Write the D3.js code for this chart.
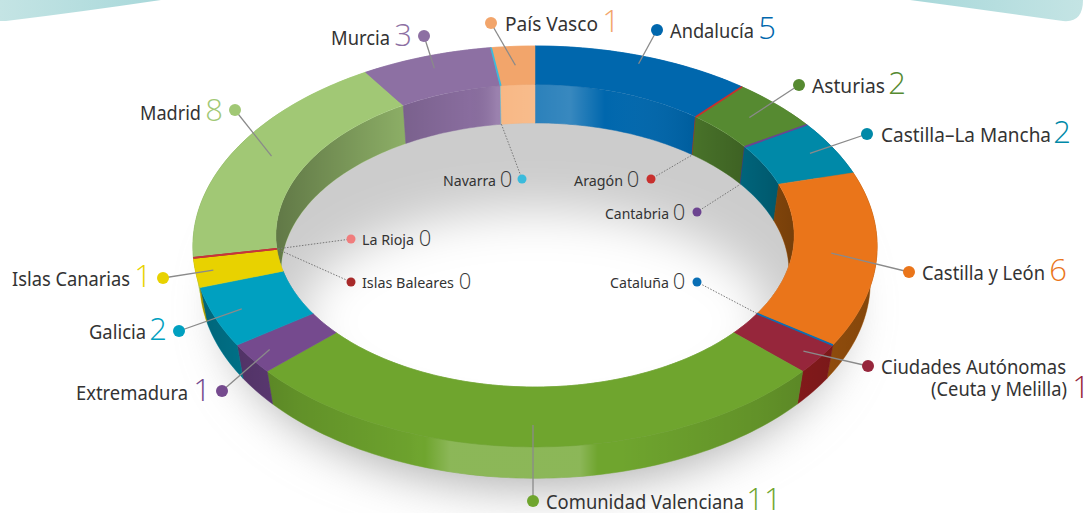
<!DOCTYPE html>
<html>
<head>
<meta charset="utf-8">
<script src="https://cdn.jsdelivr.net/npm/d3@7"></script>
<style>
  body { margin: 0; background: #fff; }
  svg { display: block; }
  text { font-family: "Noto Sans", sans-serif; fill: #333; }
  .num { font-family: "Open Sans", sans-serif; font-weight: 300; }
</style>
</head>
<body>
<script>
//chart data, clockwise from the top of the ring
var regions = ["Andalucía","Aragón","Asturias","Cantabria","Castilla–La Mancha","Castilla y León","Cataluña","Ciudades Autónomas","Comunidad Valenciana","Extremadura","Galicia","Islas Canarias","Islas Baleares","La Rioja","Madrid","Murcia","Navarra","País Vasco"];
var counts = [5,0,2,0,2,6,0,1,11,1,2,1,0,0,8,3,0,1];
var colors = ["#0067ad","#c8302e","#568a31","#6c4490","#0089a8","#ea751a","#0a6fb5","#96263b","#6fa52e","#754a8e","#00a0c0","#e8d200","#a82a2a","#c8343c","#a1c875","#8d70a3","#3bbbdc","#f2a56b"];
var wallColors = ["#0067ad","#c8302e","#4f7d2d","#6c4490","#007f9c","#b5600f","#0a6fb5","#9c1f20","#6fa52e","#6a4285","#0090ad","#e8d200","#a82a2a","#c8343c","#a1c875","#8d70a3","#3bbbdc","#f7ae74"];
var dotColors = colors.slice();
dotColors[13] = "#f07d7d"; //La Rioja dot is paler than its line

//label layout: dot x/y, name start x, name end x, baseline, value centre x, leader end radius
var layout = {
  "Andalucía":            [657,30,670,754,38,767,.95,"top"],
  "Aragón":               [651,179,574,623,186,633,.76,"low"],
  "Asturias":             [799,85,812,885,93,897,.88,"top"],
  "Cantabria":            [697,212,605,669,219,679,.76,"low"],
  "Castilla–La Mancha":   [867,134,881,1051,142,1062,.92,"top"],
  "Castilla y León":      [909,272,922,1045,280,1058,.87,"top"],
  "Cataluña":             [697,282,610,669,288,679,.76,"top"],
  "Ciudades Autónomas":   [868,366,881,1066,374,1081,.95,"top"],
  "Comunidad Valenciana": [533,501,546,744,509,764,.88,"low"],
  "Extremadura":          [222,391,76,188,400,202,.94,"top"],
  "Galicia":              [179,331,89,146,339,158,.92,"top"],
  "Islas Canarias":       [163,278,12,130,286,143,.95,"top"],
  "Islas Baleares":       [351,282,362,454,288,465,.76,"top"],
  "La Rioja":             [351,239,362,414,245,425,.76,"top"],
  "Madrid":               [235,110,140,201,120,214,.88,"top"],
  "Murcia":               [424,36,331,390,45,403,.92,"top"],
  "Navarra":              [522,179,443,496,186,506,.76,"low"],
  "País Vasco":           [491,23,505,598,31,611,.88,"top"]
};

var w = 1091, h = 513;

//perspective of the ring plane, fitted to the picture
var cx = 535, cy = 221.2, ax = 339.4, ay = 197.3, persp = 0.126;
var rIn = 0.76, lowScale = 0.98, lowCy = 257;

function project(theta, r, level){
  var X = r * Math.sin(theta), Y = -r * Math.cos(theta);
  var k = 1 / (1 - persp * Y);
  var x = ax * X * k, y = ay * Y * k;
  if (level === "low") return [cx + lowScale * x, lowCy + lowScale * y];
  return [cx + x, cy + y];
}

function arcPoints(a0, a1, r, level){
  var n = Math.max(2, Math.ceil(Math.abs(a1 - a0) / 0.02));
  return d3.range(n + 1).map(function(i){
    return project(a0 + (a1 - a0) * i / n, r, level);
  });
}

var line = d3.line();

var pie = d3.pie().sort(null).value(function(d){ return d; });
var slices = pie(counts);

var svg = d3.select("body").append("svg")
  .attr("width", w)
  .attr("height", h);

var defs = svg.append("defs");

defs.append("filter").attr("id", "blur30")
  .attr("x", "-30%").attr("y", "-30%").attr("width", "160%").attr("height", "160%")
  .append("feGaussianBlur").attr("stdDeviation", 24);

defs.append("filter").attr("id", "blurHole")
  .attr("x", "-30%").attr("y", "-30%").attr("width", "160%").attr("height", "160%")
  .append("feGaussianBlur").attr("stdDeviation", 24);

function gradient(id, stops){
  var g = defs.append("linearGradient").attr("id", id)
    .attr("gradientUnits", "userSpaceOnUse")
    .attr("x1", 190).attr("x2", 880).attr("y1", 0).attr("y2", 0);
  stops.forEach(function(s){
    g.append("stop")
      .attr("offset", (s[0] - 190) / 690)
      .attr("stop-color", s[1])
      .attr("stop-opacity", s[2]);
  });
}

//shading for the walls, lighter near the middle
gradient("outerShade", [[200,"#000",.3],[300,"#000",.12],[410,"#000",.02],[425,"#fff",0],[450,"#fff",.2],[580,"#fff",.2],[598,"#fff",0],[620,"#000",0],[760,"#000",.12],[880,"#000",.28]]);
gradient("innerShade", [[275,"#000",.4],[400,"#000",.14],[470,"#000",.03],[497,"#fff",.12],[570,"#fff",.22],[605,"#fff",0],[690,"#000",.08],[795,"#000",.35]]);

//pale teal shapes cut off by the top edge
var capLeft = defs.append("linearGradient").attr("id", "capLeft");
capLeft.append("stop").attr("offset", 0).attr("stop-color", "#c4e4e4");
capLeft.append("stop").attr("offset", 1).attr("stop-color", "#a8d8da");
var capRight = defs.append("linearGradient").attr("id", "capRight");
capRight.append("stop").attr("offset", 0).attr("stop-color", "#a8d8da");
capRight.append("stop").attr("offset", 1).attr("stop-color", "#c4e4e4");

svg.append("path")
  .attr("d", "M0,0 L161,0 Q80,12 6,21 L0,21 Z")
  .attr("fill", "url(#capLeft)");
svg.append("path")
  .attr("d", "M910,0 Q985,10 1063,21 Q1083,23 1083,0 Z")
  .attr("fill", "url(#capRight)");

//ground shadow under the ring
svg.append("path")
  .attr("d", line(arcPoints(0, 2 * Math.PI, 0.92, "low")) + "Z")
  .attr("transform", "translate(0,30)")
  .attr("fill", "#b0b0b0")
  .attr("filter", "url(#blur30)");

//outer walls
var outer = svg.append("g");
slices.forEach(function(s, i){
  var pts = arcPoints(s.startAngle, s.endAngle, 1, "top")
    .concat(arcPoints(s.endAngle, s.startAngle, 1, "low"));
  outer.append("path")
    .attr("d", line(pts) + "Z")
    .attr("fill", wallColors[i])
    .attr("stroke", wallColors[i])
    .attr("stroke-width", s.value ? .5 : 0);
});
outer.append("path")
  .attr("d", line(arcPoints(Math.PI * 0.3, Math.PI * 1.7, 1, "top").concat(arcPoints(Math.PI * 1.7, Math.PI * 0.3, 1, "low"))) + "Z")
  .attr("fill", "url(#outerShade)");

//hole in the middle
defs.append("clipPath").attr("id", "holeClip")
  .append("path")
  .attr("d", line(arcPoints(0, 2 * Math.PI, rIn, "top")) + "Z");

var hole = svg.append("g").attr("clip-path", "url(#holeClip)");
hole.append("rect").attr("width", w).attr("height", h).attr("fill", "#cccccc");
hole.append("ellipse")
  .attr("cx", cx).attr("cy", 322)
  .attr("rx", 235).attr("ry", 112)
  .attr("fill", "#fff")
  .attr("filter", "url(#blurHole)");

//inner walls
var inner = hole.append("g");
slices.forEach(function(s, i){
  var pts = arcPoints(s.startAngle, s.endAngle, rIn, "top")
    .concat(arcPoints(s.endAngle, s.startAngle, rIn, "low"));
  inner.append("path")
    .attr("d", line(pts) + "Z")
    .attr("fill", wallColors[i])
    .attr("stroke", wallColors[i])
    .attr("stroke-width", s.value ? .5 : 1.5);
});
inner.append("path")
  .attr("d", line(arcPoints(-Math.PI * 0.62, Math.PI * 0.62, rIn, "top").concat(arcPoints(Math.PI * 0.62, -Math.PI * 0.62, rIn, "low"))) + "Z")
  .attr("fill", "url(#innerShade)");

//top face, the zero slices go last so their lines stay on top
var order = d3.range(slices.length).sort(function(a, b){
  return (counts[a] === 0) - (counts[b] === 0) || a - b;
});
svg.append("g").selectAll("path")
  .data(order)
  .enter()
  .append("path")
  .attr("d", function(i){
    var d = slices[i];
    return line(arcPoints(d.startAngle, d.endAngle, 1, "top")
      .concat(arcPoints(d.endAngle, d.startAngle, rIn, "top"))) + "Z";
  })
  .attr("fill", function(i){ return colors[i]; })
  .attr("stroke", function(i){ return colors[i]; })
  .attr("stroke-width", function(i){ return counts[i] ? .5 : 1.8; });

//leader lines, dots and labels
slices.forEach(function(s, i){
  var name = regions[i], l = layout[name], zero = s.value === 0;
  var mid = (s.startAngle + s.endAngle) / 2;
  var end = project(mid, l[6], l[7]);
  if (name === "Comunidad Valenciana") end = [l[0], 425];

  svg.append("line")
    .attr("x1", l[0]).attr("y1", l[1])
    .attr("x2", end[0]).attr("y2", end[1])
    .attr("stroke", zero ? "#777" : "#8a8a8a")
    .attr("stroke-width", zero ? 1 : 1.3)
    .attr("stroke-dasharray", zero ? "1.5 1.5" : null);

  svg.append("circle")
    .attr("cx", l[0]).attr("cy", l[1])
    .attr("r", zero ? 4.5 : 6)
    .attr("fill", dotColors[i]);

  svg.append("text")
    .attr("x", l[2]).attr("y", l[4])
    .attr("font-size", zero ? 14.5 : 19)
    .attr("textLength", l[3] - l[2])
    .attr("lengthAdjust", "spacingAndGlyphs")
    .text(name);

  svg.append("text")
    .attr("class", "num")
    .attr("x", l[5])
    .attr("y", name === "Ciudades Autónomas" ? 398 : l[4] + 1)
    .attr("text-anchor", "middle")
    .attr("font-size", zero ? 22 : 31)
    .style("fill", zero ? "#3a3a3a" : colors[i])
    .text(counts[i]);
});

//second line of the Ciudades label
svg.append("text")
  .attr("x", 1067).attr("y", 396)
  .attr("text-anchor", "end")
  .attr("font-size", 19)
  .attr("textLength", 136)
  .attr("lengthAdjust", "spacingAndGlyphs")
  .text("(Ceuta y Melilla)");
</script>
</body>
</html>
